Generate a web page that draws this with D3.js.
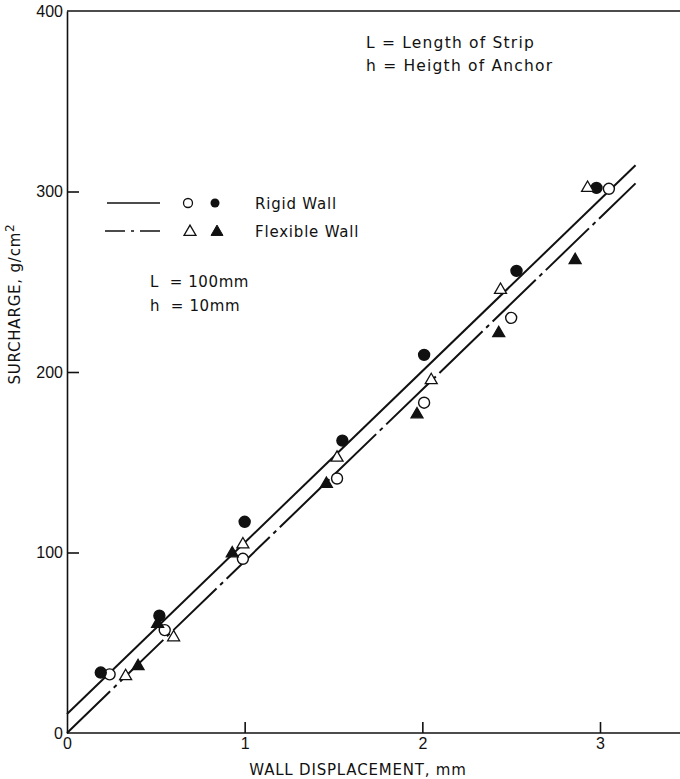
<!DOCTYPE html>
<html>
<head>
<meta charset="utf-8">
<script src="https://cdn.jsdelivr.net/npm/d3@7"></script>
<style>
  body { margin: 0; background: #fff; }
  svg { display: block; }
  text { font-family: "DejaVu Sans", "Liberation Sans", sans-serif; fill: #111; }
</style>
</head>
<body>
<svg id="chart" width="680" height="779"></svg>
<script>
// ---- data ----
const xTicks = [0, 1, 2, 3];
const yTicks = [0, 100, 200, 300, 400];

const rigidOpenX = [0.24, 0.55, 0.99, 1.52, 2.01, 2.50, 3.05];
const rigidOpenY = [32.5, 57, 96.5, 141, 183, 230, 301.5];

const rigidFilledX = [0.19, 0.52, 1.00, 1.55, 2.01, 2.53, 2.98];
const rigidFilledY = [33.5, 65, 117, 162, 209.5, 256, 302];

const flexOpenX = [0.33, 0.60, 0.99, 1.52, 2.05, 2.44, 2.93];
const flexOpenY = [31.5, 53, 104.5, 152.5, 195.5, 245.5, 302];

const flexFilledX = [0.40, 0.51, 0.93, 1.46, 1.97, 2.43, 2.86];
const flexFilledY = [37, 60.5, 99.5, 138, 176.5, 221.5, 262];

const rigidLineX = [0, 3.2];
const rigidLineY = [10.5, 314.5];
const flexLineX = [0, 3.2];
const flexLineY = [0, 304.5];

// ---- layout ----
const svg = d3.select("#chart");
const x = d3.scaleLinear().domain([0, 3]).range([67, 600]);
const y = d3.scaleLinear().domain([0, 400]).range([733, 11]);

const ink = "#111";

// frame: top line
svg.append("line").attr("x1", x(0)).attr("x2", 680).attr("y1", y(400)).attr("y2", y(400))
  .attr("stroke", ink).attr("stroke-width", 1.6);

// y axis
const yAxis = d3.axisLeft(y).tickValues(yTicks).tickSizeInner(-12).tickSizeOuter(0).tickPadding(4)
  .tickFormat(d3.format("d"));
const gy = svg.append("g").attr("transform", `translate(${x(0)},0)`).call(yAxis);
gy.select(".domain").attr("stroke", ink).attr("stroke-width", 1.6);
gy.selectAll(".tick line").attr("stroke", ink).attr("stroke-width", 1.6)
  .filter(d => d === 0 || d === 400).remove();
gy.selectAll(".tick text").attr("font-size", 16).style("font-family", "Liberation Sans, sans-serif").attr("fill", ink);

// x axis
const xAxis = d3.axisBottom(x).tickValues(xTicks).tickSizeInner(-11).tickSizeOuter(0).tickPadding(5)
  .tickFormat(d3.format("d"));
const gx = svg.append("g").attr("transform", `translate(0,${y(0)})`).call(xAxis);
gx.select(".domain").remove();
gx.append("line").attr("x1", x(0)).attr("x2", 680).attr("y1", 0).attr("y2", 0)
  .attr("stroke", ink).attr("stroke-width", 1.6);
gx.selectAll(".tick line").attr("stroke", ink).attr("stroke-width", 1.6)
  .filter(d => d === 0).remove();
gx.selectAll(".tick text").attr("font-size", 16).style("font-family", "Liberation Sans, sans-serif").attr("fill", ink);

// axis titles
svg.append("text").attr("x", 358).attr("y", 775).attr("text-anchor", "middle")
  .attr("font-size", 15).attr("letter-spacing", 0.8).text("WALL DISPLACEMENT, mm");
const yt = svg.append("text").attr("transform", "translate(20,304) rotate(-90)")
  .attr("text-anchor", "middle").attr("font-size", 15).attr("letter-spacing", 0.8);
yt.append("tspan").text("SURCHARGE, g/cm");
yt.append("tspan").attr("dy", -6).attr("font-size", 12).text("2");

// fitted lines
const line = d3.line().x(d => x(d[0])).y(d => y(d[1]));
svg.append("path").datum(d3.zip(rigidLineX, rigidLineY)).attr("d", line)
  .attr("fill", "none").attr("stroke", ink).attr("stroke-width", 2);
svg.append("path").datum(d3.zip(flexLineX, flexLineY)).attr("d", line)
  .attr("fill", "none").attr("stroke", ink).attr("stroke-width", 2)
  .attr("stroke-dasharray", "60,5,4,5");

// markers
const circR = 5.5;
const triSym = d3.symbol().type(d3.symbolTriangle).size(62);
function circles(xs, ys, filled) {
  svg.append("g").selectAll("circle").data(d3.zip(xs, ys)).join("circle")
    .attr("cx", d => x(d[0])).attr("cy", d => y(d[1])).attr("r", circR)
    .attr("fill", filled ? ink : "#fff").attr("stroke", ink).attr("stroke-width", 1.4);
}
function triangles(xs, ys, filled) {
  svg.append("g").selectAll("path").data(d3.zip(xs, ys)).join("path")
    .attr("d", triSym).attr("transform", d => `translate(${x(d[0])},${y(d[1])})`)
    .attr("fill", filled ? ink : "#fff").attr("stroke", ink).attr("stroke-width", 1.3);
}
circles(rigidOpenX, rigidOpenY, false);
circles(rigidFilledX, rigidFilledY, true);
triangles(flexOpenX, flexOpenY, false);
triangles(flexFilledX, flexFilledY, true);

// legend
const lg = svg.append("g");
lg.append("line").attr("x1", 107).attr("x2", 160).attr("y1", 203).attr("y2", 203)
  .attr("stroke", ink).attr("stroke-width", 1.6);
lg.append("line").attr("x1", 105).attr("x2", 160).attr("y1", 231).attr("y2", 231)
  .attr("stroke", ink).attr("stroke-width", 1.6).attr("stroke-dasharray", "20,6,3,6");
lg.append("circle").attr("cx", 188).attr("cy", 203).attr("r", 4.5).attr("fill", "#fff").attr("stroke", ink).attr("stroke-width", 1.3);
lg.append("circle").attr("cx", 215).attr("cy", 203).attr("r", 4.5).attr("fill", ink);
lg.append("path").attr("d", triSym).attr("transform", "translate(190,232)").attr("fill", "#fff").attr("stroke", ink).attr("stroke-width", 1.3);
lg.append("path").attr("d", triSym).attr("transform", "translate(217,232)").attr("fill", ink).attr("stroke", ink);
lg.append("text").attr("x", 255).attr("y", 209).attr("font-size", 15).attr("letter-spacing", 0.8).text("Rigid Wall");
lg.append("text").attr("x", 255).attr("y", 237).attr("font-size", 15).attr("letter-spacing", 0.8).text("Flexible Wall");
lg.append("text").attr("x", 150).attr("y", 287).attr("font-size", 15).attr("letter-spacing", 0.6).attr("xml:space", "preserve").text("L  = 100mm");
lg.append("text").attr("x", 150).attr("y", 311).attr("font-size", 15).attr("letter-spacing", 0.6).attr("xml:space", "preserve").text("h  = 10mm");

// notes
svg.append("text").attr("x", 366).attr("y", 48).attr("font-size", 15.5).attr("letter-spacing", 1.2).text("L = Length of Strip");
svg.append("text").attr("x", 366).attr("y", 71).attr("font-size", 15.5).attr("letter-spacing", 1.2).text("h = Heigth of Anchor");
</script>
</body>
</html>
